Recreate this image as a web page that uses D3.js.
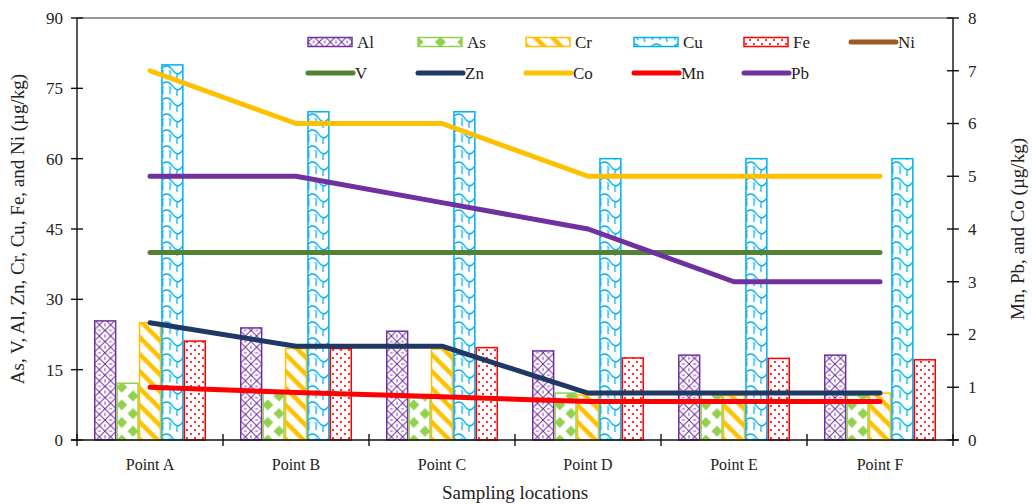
<!DOCTYPE html>
<html>
<head>
<meta charset="utf-8">
<script src="https://cdn.jsdelivr.net/npm/d3@7"></script>
<style>
  html, body { margin: 0; padding: 0; background: #fff; }
  svg { display: block; font-family: "Liberation Serif", "Times New Roman", serif; }
</style>
</head>
<body>
<svg id="chart" width="1032" height="504"></svg>
<script>
// Sampling locations
const locations = ["Point A", "Point B", "Point C", "Point D", "Point E", "Point F"];

// Bar series (left axis, µg/kg)
const alValues = [25.4, 23.9, 23.2, 19.0, 18.1, 18.1];
const asValues = [12.1, 10.0, 9.0, 10.0, 9.8, 9.5];
const crValues = [25.0, 19.5, 19.4, 9.6, 9.5, 10.0];
const cuValues = [80, 70, 70, 60, 60, 60];
const feValues = [21.1, 19.5, 19.7, 17.5, 17.4, 17.1];

// Line series on the left axis (µg/kg)
const vValues = [40, 40, 40, 40, 40, 40];
const znValues = [25, 20, 20, 10, 10, 10];
const niValues = [];

// Line series on the right axis (µg/kg)
const coValues = [7, 6, 6, 5, 5, 5];
const mnValues = [1.0, 0.9, 0.82, 0.73, 0.73, 0.73];
const pbValues = [5, 5, 4.5, 4, 3, 3];

// Axis ticks
const leftTicks = [0, 15, 30, 45, 60, 75, 90];
const rightTicks = [0, 1, 2, 3, 4, 5, 6, 7, 8];

const barSeries = [
  { name: "Al", values: alValues, color: "#7030A0", pattern: "pat-al" },
  { name: "As", values: asValues, color: "#92D050", pattern: "pat-as" },
  { name: "Cr", values: crValues, color: "#FFC000", pattern: "pat-cr" },
  { name: "Cu", values: cuValues, color: "#00B0F0", pattern: "pat-cu" },
  { name: "Fe", values: feValues, color: "#FF0000", pattern: "pat-fe" }
];

const lineSeries = [
  { name: "V",  values: vValues,  color: "#548235", axis: "left" },
  { name: "Zn", values: znValues, color: "#1F3864", axis: "left" },
  { name: "Co", values: coValues, color: "#FFC000", axis: "right" },
  { name: "Mn", values: mnValues, color: "#FF0000", axis: "right" },
  { name: "Pb", values: pbValues, color: "#7030A0", axis: "right" },
  { name: "Ni", values: niValues, color: "#9E5A24", axis: "left" }
];

const svg = d3.select("#chart");
const plot = { left: 77, right: 953, top: 18, bottom: 440 };

const x = d3.scaleBand().domain(locations).range([plot.left, plot.right]).padding(0);
const xInner = d3.scaleBand().domain(barSeries.map(d => d.name))
  .range([17, x.bandwidth() - 17]).padding(0);
const yL = d3.scaleLinear().domain([0, 90]).range([plot.bottom, plot.top]);
const yR = d3.scaleLinear().domain([0, 8]).range([plot.bottom, plot.top]);

// ---- fill patterns ----
const defs = svg.append("defs");

// Al: diamond lattice
const pAl = defs.append("pattern").attr("id", "pat-al").attr("patternUnits", "userSpaceOnUse")
  .attr("width", 11.2).attr("height", 11.2);
pAl.append("rect").attr("width", 11.2).attr("height", 11.2).attr("fill", "#fff");
pAl.append("path").attr("d", "M0,0L11.2,11.2M11.2,0L0,11.2")
  .attr("stroke", "#7030A0").attr("stroke-width", 1.1).attr("fill", "none");
pAl.append("path").attr("d", "M5.6,0V1.5M5.6,9.7V11.2M0,5.6H1.5M9.7,5.6H11.2")
  .attr("stroke", "#7030A0").attr("stroke-width", 1).attr("fill", "none");

// As: green diamonds
const pAs = defs.append("pattern").attr("id", "pat-as").attr("patternUnits", "userSpaceOnUse")
  .attr("width", 22.4).attr("height", 17.6);
pAs.append("rect").attr("width", 22.4).attr("height", 17.6).attr("fill", "#fff");
const diamond = (cx, cy, r) => `M${cx},${cy - r}L${cx + r},${cy}L${cx},${cy + r}L${cx - r},${cy}Z`;
pAs.append("path")
  .attr("d", diamond(11.2, 8.8, 5.5) + diamond(0, 0, 5.5) + diamond(22.4, 0, 5.5) +
             diamond(0, 17.6, 5.5) + diamond(22.4, 17.6, 5.5))
  .attr("fill", "#92D050");

// Cr: thick diagonal stripes running down to the right
const pCr = defs.append("pattern").attr("id", "pat-cr").attr("patternUnits", "userSpaceOnUse")
  .attr("width", 12).attr("height", 12).attr("patternTransform", "rotate(45)");
pCr.append("rect").attr("width", 12).attr("height", 12).attr("fill", "#fff");
pCr.append("rect").attr("x", 0).attr("y", 0).attr("width", 12).attr("height", 4.5).attr("fill", "#FFC000");

// Cu: scalloped weave
const pCu = defs.append("pattern").attr("id", "pat-cu").attr("patternUnits", "userSpaceOnUse")
  .attr("width", 22.4).attr("height", 16);
pCu.append("rect").attr("width", 22.4).attr("height", 16).attr("fill", "#fff");
pCu.append("path")
  .attr("d", "M0,2 C6,2 6,10 11.2,10 C16,10 16,2 22.4,2 M11.2,10 C9,13 11,16 11.2,16 M3,6 C5,9 2,12 4,14 M19,6 C17,9 20,12 18,14")
  .attr("stroke", "#00B0F0").attr("stroke-width", 1.3).attr("fill", "none");

// Fe: red dots
const pFe = defs.append("pattern").attr("id", "pat-fe").attr("patternUnits", "userSpaceOnUse")
  .attr("width", 8).attr("height", 8);
pFe.append("rect").attr("width", 8).attr("height", 8).attr("fill", "#fff");
pFe.append("circle").attr("cx", 2).attr("cy", 2).attr("r", 1.1).attr("fill", "#FF0000");
pFe.append("circle").attr("cx", 6).attr("cy", 6).attr("r", 1.1).attr("fill", "#FF0000");

// ---- bars ----
const groups = svg.append("g").selectAll("g").data(locations).join("g")
  .attr("transform", d => `translate(${x(d)},0)`);

groups.selectAll("rect")
  .data((loc, i) => barSeries.map(s => ({ s, v: s.values[i] })))
  .join("rect")
  .attr("x", d => xInner(d.s.name) + 0.75)
  .attr("y", d => yL(d.v))
  .attr("width", xInner.bandwidth() - 1.5)
  .attr("height", d => yL(0) - yL(d.v))
  .attr("fill", d => `url(#${d.s.pattern})`)
  .attr("stroke", d => d.s.color)
  .attr("stroke-width", 1.5);

// ---- lines ----
const lineFor = s => d3.line()
  .x((v, i) => x(locations[i]) + x.bandwidth() / 2)
  .y(v => (s.axis === "left" ? yL : yR)(v));

svg.append("g").selectAll("path")
  .data(lineSeries.filter(s => s.values.length))
  .join("path")
  .attr("d", s => lineFor(s)(s.values))
  .attr("fill", "none")
  .attr("stroke", s => s.color)
  .attr("stroke-width", 5)
  .attr("stroke-linejoin", "round")
  .attr("stroke-linecap", "round");

// ---- axes ----
const axisG = svg.append("g").attr("stroke", "#111").attr("stroke-width", 1.4);
axisG.append("line").attr("x1", plot.left).attr("x2", plot.left).attr("y1", plot.top).attr("y2", plot.bottom);
axisG.append("line").attr("x1", plot.right).attr("x2", plot.right).attr("y1", plot.top).attr("y2", plot.bottom);
axisG.append("line").attr("x1", plot.left - 6).attr("x2", plot.right + 6).attr("y1", plot.bottom).attr("y2", plot.bottom);
axisG.append("line").attr("x1", plot.left).attr("x2", plot.right).attr("y1", plot.top).attr("y2", plot.top)
  .attr("stroke", "#333").attr("stroke-width", 1);

// left ticks
axisG.selectAll(".lt").data(leftTicks).join("line")
  .attr("x1", plot.left - 6).attr("x2", plot.left + 6)
  .attr("y1", d => yL(d)).attr("y2", d => yL(d));
// right ticks
axisG.selectAll(".rt").data(rightTicks).join("line")
  .attr("x1", plot.right - 6).attr("x2", plot.right + 6)
  .attr("y1", d => yR(d)).attr("y2", d => yR(d));
// category boundary ticks
const boundaries = locations.map(d => x(d)).concat([plot.right]);
axisG.selectAll(".xt").data(boundaries).join("line")
  .attr("x1", d => d).attr("x2", d => d)
  .attr("y1", plot.bottom - 6).attr("y2", plot.bottom + 6);

const textColor = "#222";
svg.append("g").selectAll("text").data(leftTicks).join("text")
  .attr("x", plot.left - 14).attr("y", d => yL(d)).attr("dy", "0.35em")
  .attr("text-anchor", "end").attr("font-size", 17).attr("fill", textColor)
  .text(d => d);
svg.append("g").selectAll("text").data(rightTicks).join("text")
  .attr("x", plot.right + 15).attr("y", d => yR(d)).attr("dy", "0.35em")
  .attr("text-anchor", "start").attr("font-size", 17).attr("fill", textColor)
  .text(d => d);
svg.append("g").selectAll("text").data(locations).join("text")
  .attr("x", d => x(d) + x.bandwidth() / 2).attr("y", 470)
  .attr("text-anchor", "middle").attr("font-size", 16).attr("fill", textColor)
  .text(d => d);

// axis titles
svg.append("text").attr("transform", `translate(24,${(plot.top + plot.bottom) / 2}) rotate(-90)`)
  .attr("text-anchor", "middle").attr("font-size", 19).attr("fill", textColor)
  .text("As, V, Al, Zn, Cr, Cu, Fe, and Ni (µg/kg)");
svg.append("text").attr("transform", `translate(1024,${(plot.top + plot.bottom) / 2}) rotate(-90)`)
  .attr("text-anchor", "middle").attr("font-size", 19).attr("fill", textColor)
  .text("Mn, Pb, and Co (µg/kg)");
svg.append("text").attr("x", 515).attr("y", 499)
  .attr("text-anchor", "middle").attr("font-size", 19).attr("fill", textColor)
  .text("Sampling locations");

// ---- legend ----
const legendCols = [308, 418, 526, 634, 744, 851];
const legendItems = [
  ...barSeries.map(s => ({ type: "bar", s })),
  ...["Ni", "V", "Zn", "Co", "Mn", "Pb"].map(n => ({ type: "line", s: lineSeries.find(l => l.name === n) }))
];
const legend = svg.append("g").selectAll("g").data(legendItems).join("g")
  .attr("transform", (d, i) => `translate(${legendCols[i % 6]},${i < 6 ? 42 : 73})`);
legend.filter(d => d.type === "bar").append("rect")
  .attr("x", 0).attr("y", -4.5).attr("width", 44).attr("height", 9)
  .attr("fill", d => `url(#${d.s.pattern})`).attr("stroke", d => d.s.color).attr("stroke-width", 1.5);
legend.filter(d => d.type === "line").append("line")
  .attr("x1", 0).attr("x2", 45).attr("y1", 0).attr("y2", 0)
  .attr("stroke", d => d.s.color).attr("stroke-width", 5).attr("stroke-linecap", "round");
legend.append("text")
  .attr("x", d => d.type === "bar" ? 49 : 47).attr("y", 0).attr("dy", "0.35em")
  .attr("font-size", 17).attr("fill", textColor)
  .text(d => d.s.name);
</script>
</body>
</html>
